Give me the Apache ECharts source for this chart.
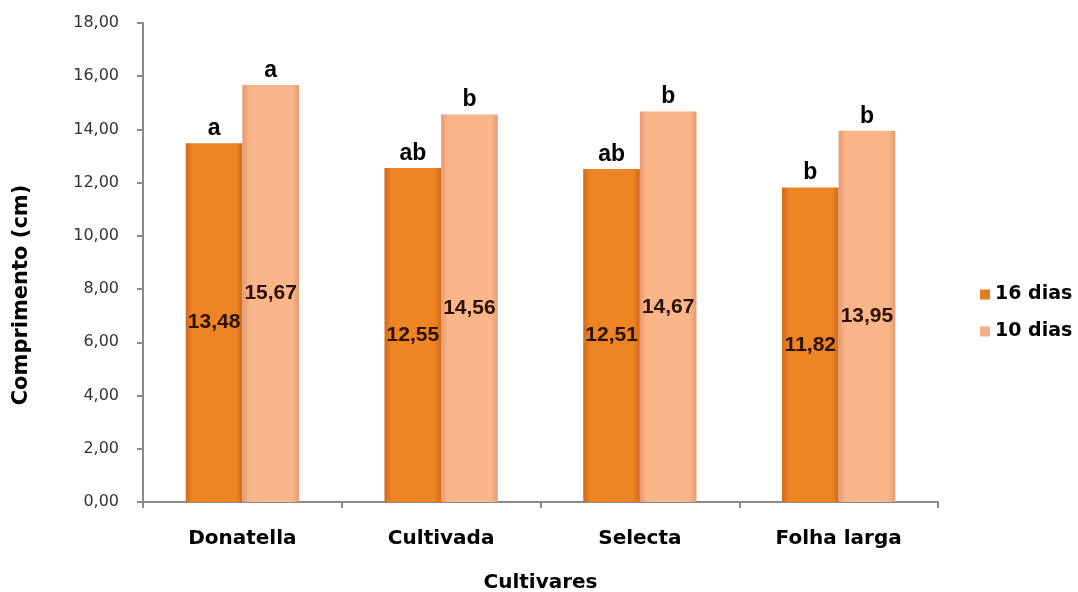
<!DOCTYPE html>
<html>
<head>
<meta charset="utf-8">
<script src="https://cdn.jsdelivr.net/npm/echarts@6/dist/echarts.min.js"></script>
<style>
  html, body { margin: 0; padding: 0; background: #fff; }
  #chart { width: 1078px; height: 592px; }
</style>
</head>
<body>
<div id="chart"></div>
<script>
// Leaf length per cultivar at two harvest ages
const categories = ['Donatella', 'Cultivada', 'Selecta', 'Folha larga'];
const dias16 = [13.48, 12.55, 12.51, 11.82];
const dias10 = [15.67, 14.56, 14.67, 13.95];
// Significance letters placed above each bar
const letras16 = ['a', 'ab', 'ab', 'b'];
const letras10 = ['a', 'b', 'b', 'b'];
const seriesNames = ['16 dias', '10 dias'];

const fmt = v => v.toFixed(2).replace('.', ',');
const WIDE = 'DejaVu Sans, sans-serif';
const ARIAL = 'Liberation Sans, Arial, sans-serif';

function barGradient(edge, mid) {
  return new echarts.graphic.LinearGradient(0, 0, 1, 0, [
    { offset: 0, color: edge },
    { offset: 0.12, color: mid },
    { offset: 0.88, color: mid },
    { offset: 1, color: edge }
  ]);
}

const chart = echarts.init(document.getElementById('chart'));

// main bar with its value written inside, plus a zero-height bar stacked on top
// that carries the significance letter
function makeSeries(name, values, letters, edge, mid) {
  return [
    {
      name: name,
      type: 'bar',
      stack: name,
      data: values,
      barGap: '0%',
      barCategoryGap: '43%',
      itemStyle: { color: barGradient(edge, mid) },
      label: {
        show: true,
        position: 'inside',
        formatter: p => fmt(p.value),
        color: '#2b1200',
        fontFamily: ARIAL,
        fontWeight: 'bold',
        fontSize: 21
      }
    },
    {
      name: name,
      type: 'bar',
      stack: name,
      data: values.map(() => 0),
      itemStyle: { color: 'rgba(0,0,0,0)' },
      label: {
        show: true,
        position: 'top',
        distance: 3,
        formatter: p => letters[p.dataIndex],
        color: '#000',
        fontFamily: ARIAL,
        fontWeight: 'bold',
        fontSize: 23
      },
      silent: true
    }
  ];
}

const s16 = makeSeries(seriesNames[0], dias16, letras16, '#CF6A18', '#EF8424');
const s10 = makeSeries(seriesNames[1], dias10, letras10, '#E69A70', '#FAB58B');

chart.setOption({
  animation: false,
  backgroundColor: '#ffffff',
  grid: { left: 143, right: 140, top: 23, bottom: 90, outerBoundsMode: 'none', containLabel: false },
  legend: {
    data: [
      { name: seriesNames[0], itemStyle: { color: '#E57D1D' } },
      { name: seriesNames[1], itemStyle: { color: '#F3AE86' } }
    ],
    orient: 'vertical',
    left: 975,
    top: 280,
    itemWidth: 10,
    itemHeight: 10,
    itemGap: 18,
    icon: 'rect',
    textStyle: {
      fontFamily: WIDE,
      fontWeight: 'bold',
      fontSize: 19,
      color: '#000'
    }
  },
  graphic: [{
    type: 'text',
    x: 22,
    y: 295,
    rotation: Math.PI / 2,
    style: {
      text: 'Comprimento (cm)',
      font: 'bold 21px DejaVu Sans, sans-serif',
      fill: '#000',
      align: 'center',
      verticalAlign: 'middle'
    }
  }],
  xAxis: {
    type: 'category',
    data: categories,
    name: 'Cultivares',
    nameLocation: 'middle',
    nameGap: 71,
    nameTextStyle: {
      fontFamily: WIDE,
      fontWeight: 'bold',
      fontSize: 20,
      color: '#000'
    },
    axisLine: { lineStyle: { color: '#8a8a8a', width: 2 } },
    axisTick: { show: true, length: 6, lineStyle: { color: '#8a8a8a', width: 2 } },
    axisLabel: {
      margin: 27,
      fontFamily: WIDE,
      fontWeight: 'bold',
      fontSize: 20,
      color: '#000'
    }
  },
  yAxis: {
    type: 'value',
    min: 0,
    max: 18,
    interval: 2,
    axisLine: { show: true, lineStyle: { color: '#8a8a8a', width: 2 } },
    axisTick: { show: true, length: 6, lineStyle: { color: '#8a8a8a', width: 2 } },
    splitLine: { show: false },
    axisLabel: {
      margin: 24,
      formatter: v => fmt(v),
      fontFamily: WIDE,
      fontSize: 16,
      color: '#333'
    }
  },
  series: [s16[0], s16[1], s10[0], s10[1]]
});
</script>
</body>
</html>
